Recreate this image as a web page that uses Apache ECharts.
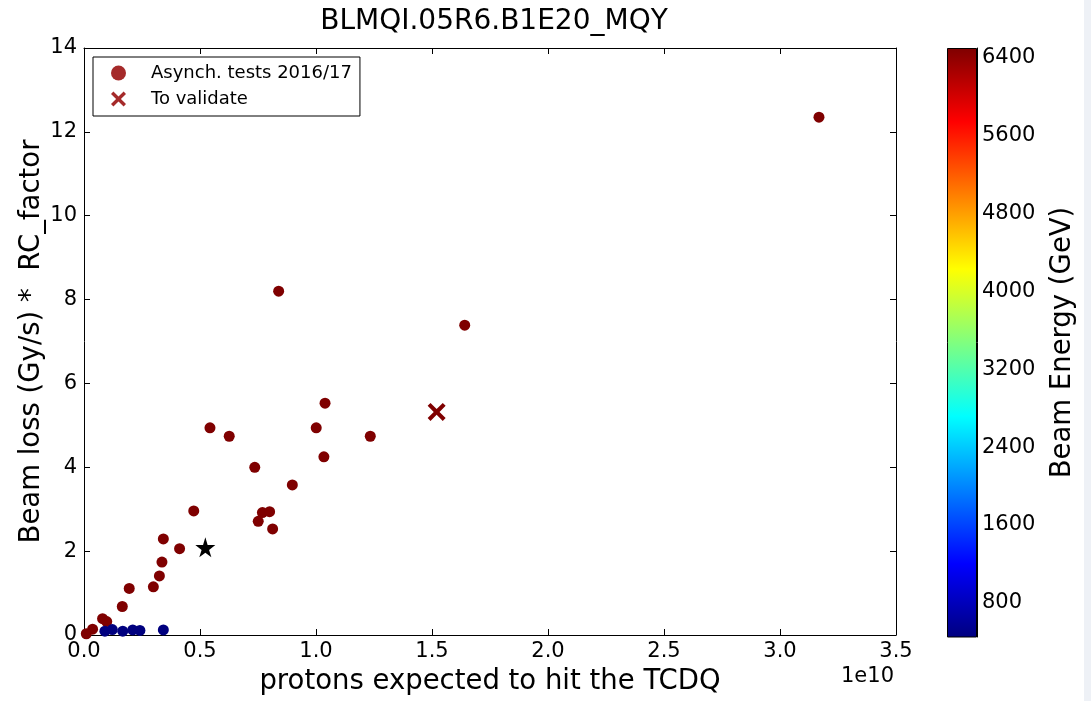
<!DOCTYPE html>
<html>
<head>
<meta charset="utf-8">
<script src="https://cdn.jsdelivr.net/npm/echarts@6/dist/echarts.min.js"></script>
<style>
  html, body { margin: 0; padding: 0; background: #eef1f6; }
  #chart { width: 1084px; height: 701px; background: #fff; }
</style>
</head>
<body>
<div id="chart"></div>
<script>
// x in units of 1e10 protons, y beam loss, e beam energy (GeV)
var asyncX = [0.543, 0.626, 1.001, 1.039, 1.234, 1.034, 0.736, 0.898, 0.473, 0.769, 0.800, 0.751, 0.813,
  0.342, 0.412, 0.336, 0.325, 0.299, 0.195, 0.165, 0.080, 0.098, 0.037, 0.010, 0.839, 1.641, 3.168,
  0.090, 0.122, 0.167, 0.210, 0.241, 0.342];
var asyncY = [4.94, 4.74, 4.94, 5.53, 4.74, 4.25, 4.00, 3.58, 2.96, 2.92, 2.94, 2.71, 2.53,
  2.29, 2.06, 1.74, 1.41, 1.15, 1.11, 0.68, 0.39, 0.32, 0.14, 0.03, 8.20, 7.39, 12.35,
  0.09, 0.13, 0.09, 0.12, 0.11, 0.12];
var asyncE = [6500, 6500, 6500, 6500, 6500, 6500, 6500, 6500, 6500, 6500, 6500, 6500, 6500,
  6500, 6500, 6500, 6500, 6500, 6500, 6500, 6500, 6500, 6500, 6500, 6500, 6500, 6500,
  450, 450, 450, 450, 450, 450];

var validX = [1.520];
var validY = [5.32];
var validE = [6500];

var starX = [0.523];
var starY = [2.09];

var cbTicks = [800, 1600, 2400, 3200, 4000, 4800, 5600, 6400];
var eMin = 450, eMax = 6500;

var jet = ['#00007f', '#0000ff', '#00ffff', '#ffff00', '#ff0000', '#7f0000'];
var jetStops = [0, 0.125, 0.375, 0.625, 0.875, 1];

var font = 'DejaVu Sans';
var xPath = 'path://M0,1.6 L1.6,0 L5,3.4 L8.4,0 L10,1.6 L6.6,5 L10,8.4 L8.4,10 L5,6.6 L1.6,10 L0,8.4 L3.4,5 Z';
var starPath = 'path://M50,0 L61,35 L98,35 L68,57 L79,91 L50,70 L21,91 L32,57 L2,35 L39,35 Z';

function zip3(a, b, c) {
  var out = [];
  for (var i = 0; i < a.length; i++) out.push([a[i], b[i], c ? c[i] : 0]);
  return out;
}

var chart = echarts.init(document.getElementById('chart'));

var axisLine = { show: true, onZero: false, lineStyle: { color: '#000', width: 1 } };
var tickIn = { show: true, inside: true, length: 6, lineStyle: { color: '#000' } };

var option = {
  animation: false,
  textStyle: { fontFamily: font },
  title: {
    text: 'BLMQI.05R6.B1E20_MQY',
    left: 489, top: 3, textAlign: 'center',
    textStyle: { fontFamily: font, fontSize: 28, fontWeight: 'normal', color: '#000' }
  },
  grid: [
    { left: 84, top: 48, width: 812, height: 589 },
    { left: 947, top: 48, width: 30, height: 589 }
  ],
  graphic: [
    {
      type: 'text', right: 1084 - 894, top: 666,
      style: { text: '1e10', fontSize: 21, fontFamily: font, fill: '#000' }
    }
  ],
  xAxis: [
    {
      gridIndex: 0, type: 'value', min: 0, max: 3.5, interval: 0.5,
      axisLine: axisLine, axisTick: tickIn, splitLine: { show: false },
      axisLabel: { color: '#000', fontSize: 21, margin: 6, formatter: function (v) { return v.toFixed(1); } },
      name: 'protons expected to hit the TCDQ', nameLocation: 'middle', nameGap: 33,
      nameMoveOverlap: false,
      nameTextStyle: { fontSize: 27.5, color: '#000', fontFamily: font }
    },
    {
      gridIndex: 0, type: 'value', position: 'top', min: 0, max: 3.5, interval: 0.5,
      axisLine: axisLine, axisTick: tickIn, axisLabel: { show: false }, splitLine: { show: false }
    },
    {
      gridIndex: 1, type: 'category', data: ['cb'], show: false
    }
  ],
  yAxis: [
    {
      gridIndex: 0, type: 'value', min: 0, max: 14, interval: 2,
      axisLine: axisLine, axisTick: tickIn, splitLine: { show: false },
      axisLabel: { color: '#000', fontSize: 21, margin: 7 },
      name: 'Beam loss (Gy/s) *  RC_factor', nameLocation: 'middle', nameGap: 38,
      nameMoveOverlap: false,
      nameTextStyle: { fontSize: 27.5, color: '#000', fontFamily: font }
    },
    {
      gridIndex: 0, type: 'value', position: 'right', min: 0, max: 14, interval: 2,
      axisLine: axisLine, axisTick: tickIn, axisLabel: { show: false }, splitLine: { show: false }
    },
    {
      gridIndex: 1, type: 'value', position: 'right', min: eMin, max: eMax,
      axisLine: axisLine, splitLine: { show: false },
      axisTick: { show: true, inside: true, length: 5, customValues: cbTicks, lineStyle: { color: '#000' } },
      axisLabel: { color: '#000', fontSize: 21, margin: 5, customValues: cbTicks,
        formatter: function (v) { return String(v); } },
      name: 'Beam Energy (GeV)', nameLocation: 'middle', nameGap: 72, nameRotate: 90,
      nameMoveOverlap: false,
      nameTextStyle: { fontSize: 27.5, color: '#000', fontFamily: font }
    }
  ],
  visualMap: {
    type: 'continuous', show: false, min: eMin, max: eMax, dimension: 2,
    seriesIndex: [0, 1],
    inRange: { color: jet }
  },
  legend: {
    orient: 'vertical', left: 93, top: 57,
    borderColor: '#000', borderWidth: 1, borderRadius: 0,
    padding: [7, 8, 8, 18], itemGap: 8, itemWidth: 15, itemHeight: 15,
    textStyle: { fontSize: 18, color: '#000', fontFamily: font, padding: [0, 0, 0, 20] },
    data: [
      { name: 'Asynch. tests 2016/17', icon: 'circle', itemStyle: { color: '#a52a2a' } },
      { name: 'To validate', icon: xPath, itemStyle: { color: '#a52a2a' } }
    ]
  },
  series: [
    {
      name: 'Asynch. tests 2016/17', type: 'scatter', xAxisIndex: 0, yAxisIndex: 0,
      symbol: 'circle', symbolSize: 11, itemStyle: { color: '#a52a2a', opacity: 1 },
      data: zip3(asyncX, asyncY, asyncE)
    },
    {
      name: 'To validate', type: 'scatter', xAxisIndex: 0, yAxisIndex: 0,
      symbol: xPath, symbolSize: 18, itemStyle: { color: '#a52a2a', opacity: 1 },
      data: zip3(validX, validY, validE)
    },
    {
      name: 'star', type: 'scatter', xAxisIndex: 0, yAxisIndex: 0,
      symbol: starPath, symbolSize: 20, itemStyle: { color: '#000', opacity: 1 },
      data: zip3(starX, starY)
    },
    {
      name: 'colorbar', type: 'bar', xAxisIndex: 2, yAxisIndex: 2,
      barWidth: '100%', silent: true, clip: true,
      itemStyle: {
        borderColor: '#000', borderWidth: 1,
        color: {
          type: 'linear', x: 0, y: 1, x2: 0, y2: 0,
          colorStops: jetStops.map(function (s, i) { return { offset: s, color: jet[i] }; })
        }
      },
      data: [eMax]
    }
  ]
};

chart.setOption(option);
</script>
</body>
</html>
